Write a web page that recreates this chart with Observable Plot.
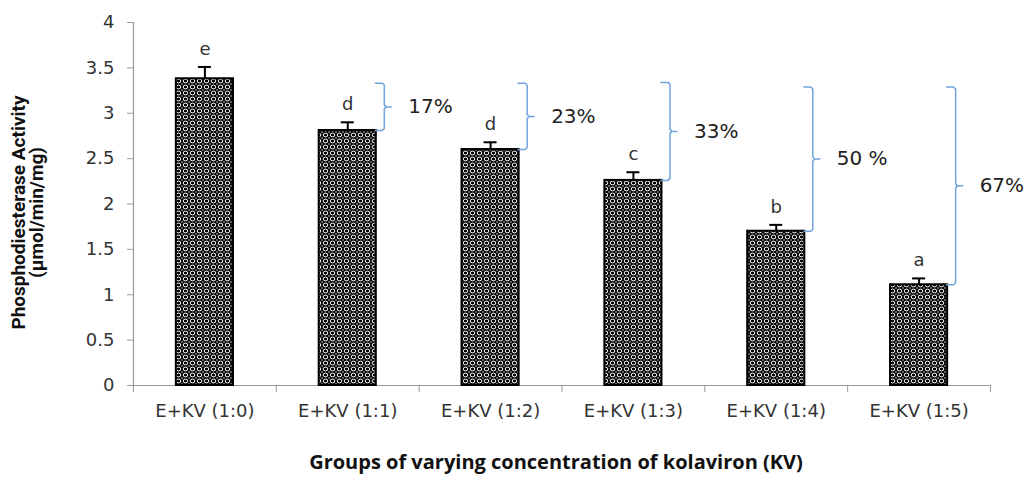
<!DOCTYPE html>
<html>
<head>
<meta charset="utf-8">
<script src="https://cdn.jsdelivr.net/npm/d3@7"></script>
<script src="https://cdn.jsdelivr.net/npm/@observablehq/plot@0.6"></script>
<style>
  html, body { margin: 0; padding: 0; background: #fff; }
  svg { font-family: "DejaVu Sans", sans-serif; }
</style>
</head>
<body>
<div id="chart"></div>
<script>
const categories = ["E+KV (1:0)", "E+KV (1:1)", "E+KV (1:2)", "E+KV (1:3)", "E+KV (1:4)", "E+KV (1:5)"];
const values = [3.38, 2.81, 2.60, 2.26, 1.70, 1.11];
const errors = [0.13, 0.09, 0.08, 0.09, 0.07, 0.07];
const letters = ["e", "d", "d", "c", "b", "a"];
const percentLabels = ["17%", "23%", "33%", "50 %", "67%"];
const bracketTops = [3.33, 3.33, 3.34, 3.29, 3.29];
const yTicks = [0, 0.5, 1, 1.5, 2, 2.5, 3, 3.5, 4];

const W = 1029, H = 483;
const mL = 133, mR = 39, mT = 22, mB = 98;
const bandPx = (W - mL - mR) / categories.length;
const yPx = (H - mT - mB) / 4;
const px = p => p / bandPx;   // pixel -> x data units
const py = p => p / yPx;      // pixel -> y data units
const pad = 0.3;

const bars = categories.map((c, i) => ({c, i, v: values[i], e: errors[i], l: letters[i]}));

// brackets: between bar i and bar i+1, placed right of bar i+1
const bracketPts = [];
const bracketLabels = [];
percentLabels.forEach((lab, k) => {
  const j = k + 1;
  const xv = j + 1 - pad + px(8);
  const top = bracketTops[k], bot = values[j], mid = (top + bot) / 2;
  const pts = [
    [-9, top, 0], [-2, top, 0], [0, top, 2], [0, mid, -2], [2, mid, 0], [7, mid, 0],
    [2, mid, 0], [0, mid, 2], [0, bot, -2], [-2, bot, 0], [-9, bot, 0]
  ];
  pts.forEach(([dxp, yv, dyp]) => bracketPts.push({k, x: xv + px(dxp), y: yv - py(dyp)}));
  bracketLabels.push({x: xv + px(24), y: mid, t: lab});
});

const chart = Plot.plot({
  width: W, height: H,
  marginLeft: mL, marginRight: mR, marginTop: mT, marginBottom: mB,
  x: {domain: [0, 6], axis: null},
  y: {domain: [0, 4], axis: null},
  marks: [
    Plot.axisY({ticks: yTicks, tickSize: 6, tickPadding: 13, stroke: "#9a9a9a", fill: "#333", fontSize: 18, tickFormat: d => String(d), label: null}),
    Plot.axisX({ticks: [0, 1, 2, 3, 4, 5, 6], tickSize: 7, stroke: "#9a9a9a", tickFormat: () => "", label: null}),
    Plot.ruleX([0], {y1: 0, y2: 4, stroke: "#9a9a9a", strokeWidth: 1.2}),
    Plot.ruleY([0], {x1: 0, x2: 6, stroke: "#9a9a9a", strokeWidth: 1.2}),
    Plot.rectY(bars, {x1: d => d.i + pad, x2: d => d.i + 1 - pad, y1: 0, y2: "v", fill: "url(#kvpat)", stroke: "#000", strokeWidth: 2}),
    Plot.ruleX(bars, {x: d => d.i + 0.5, y1: "v", y2: d => d.v + d.e, stroke: "#000", strokeWidth: 2}),
    Plot.ruleY(bars, {y: d => d.v + d.e, x1: d => d.i + 0.5 - px(6.5), x2: d => d.i + 0.5 + px(6.5), stroke: "#000", strokeWidth: 2}),
    Plot.text(bars, {x: d => d.i + 0.5, y: d => d.v + d.e, text: "l", dy: -18, fontSize: 18, fill: "#333"}),
    Plot.line(bracketPts, {x: "x", y: "y", z: "k", stroke: "#72a3dc", strokeWidth: 1.5}),
    Plot.text(bracketLabels, {x: "x", y: "y", text: "t", textAnchor: "start", fontSize: 20, fill: "#222"}),
    Plot.text(bars, {x: d => d.i + 0.5, y: 0, text: "c", dy: 26, fontSize: 18, fill: "#333"}),
    Plot.text(["Groups of varying concentration of kolaviron (KV)"], {frameAnchor: "bottom", dy: 83, dx: -6, fontSize: 20, fontWeight: "bold", fill: "#111", fontFamily: "Open Sans"}),
    Plot.text(["Phosphodiesterase Activity\n(µmol/min/mg)"], {frameAnchor: "left", textAnchor: "middle", rotate: -90, dx: -105, dy: 8.5, fontSize: 19, fontWeight: "bold", fill: "#111", fontFamily: "Roboto", lineHeight: 0.92})
  ]
});

const svg = d3.select(chart);
const defs = svg.insert("defs", ":first-child");
const pat = defs.append("pattern").attr("id", "kvpat").attr("patternUnits", "userSpaceOnUse")
  .attr("width", 7).attr("height", 6);
pat.append("rect").attr("width", 7).attr("height", 6).attr("fill", "#000");
pat.append("ellipse").attr("cx", 3.5).attr("cy", 3).attr("rx", 2.3).attr("ry", 1.9)
  .attr("fill", "none").attr("stroke", "#fff").attr("stroke-width", 1);
pat.append("circle").attr("cx", 0).attr("cy", 0).attr("r", 0.8).attr("fill", "#ddd");
pat.append("circle").attr("cx", 7).attr("cy", 0).attr("r", 0.8).attr("fill", "#ddd");
pat.append("circle").attr("cx", 0).attr("cy", 6).attr("r", 0.8).attr("fill", "#ddd");
pat.append("circle").attr("cx", 7).attr("cy", 6).attr("r", 0.8).attr("fill", "#ddd");

document.getElementById("chart").appendChild(chart);
</script>
</body>
</html>
